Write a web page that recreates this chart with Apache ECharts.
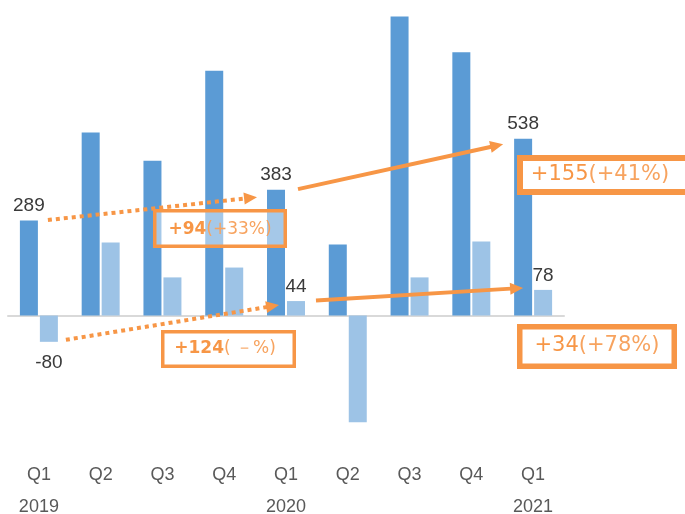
<!DOCTYPE html>
<html>
<head>
<meta charset="utf-8">
<script src="https://cdn.jsdelivr.net/npm/echarts@6/dist/echarts.min.js"></script>
<style>
  html, body { margin: 0; padding: 0; background: #fff; }
  #chart { width: 685px; height: 514px; }
</style>
</head>
<body>
<div id="chart"></div>
<script>
// data
const quarters = ['Q1', 'Q2', 'Q3', 'Q4', 'Q1', 'Q2', 'Q3', 'Q4', 'Q1'];
const years = ['2019', '', '', '', '2020', '', '', '', '2021'];
const seriesDark = [289, 557, 471, 745, 383, 216, 910, 801, 538];
const seriesLight = [-80, 222, 116, 146, 44, -325, 116, 225, 78];
const labelIndex = [0, 4, 8];
const diffTexts = [
  ['+94', '(+33%)'],
  ['+155', '(+41%)'],
  ['+124', '( －%)'],
  ['+34', '(+78%)'],
];

const ORANGE = '#F79646';
const chart = echarts.init(document.getElementById('chart'));

function withLabels(values) {
  return values.map((v, i) => {
    if (!labelIndex.includes(i)) return v;
    return {
      value: v,
      label: { show: true, position: v < 0 ? 'bottom' : 'top', distance: v < 0 ? 11 : 5 },
    };
  });
}

const valueLabel = {
  show: false,
  color: '#3a3a3a',
  fontSize: 19,
  fontFamily: 'Liberation Sans',
};

chart.setOption({
  animation: false,
  grid: { left: 8, right: 121, top: 0, bottom: 67, outerBoundsMode: 'none' },
  xAxis: [
    {
      type: 'category',
      data: quarters,
      axisLine: { onZero: true, lineStyle: { color: '#D9D9D9', width: 2 } },
      axisTick: { show: false },
      axisLabel: { show: false },
    },
    {
      type: 'category',
      data: quarters,
      position: 'bottom',
      axisLine: { show: false, onZero: false },
      axisTick: { show: false },
      axisLabel: {
        margin: 12,
        formatter: (v, i) => `{q|${v}}\n{y|${years[i] || ' '}}`,
        rich: {
          q: { fontSize: 18, fontFamily: 'Liberation Sans', color: '#595959', lineHeight: 32 },
          y: { fontSize: 18, fontFamily: 'Liberation Sans', color: '#595959', lineHeight: 32 },
        },
      },
    },
  ],
  yAxis: { type: 'value', min: -400, max: 960, show: false },
  series: [
    {
      type: 'bar',
      data: withLabels(seriesDark),
      barWidth: 18,
      barGap: '11%',
      itemStyle: { color: '#5B9BD5' },
      label: valueLabel,
    },
    {
      type: 'bar',
      data: withLabels(seriesLight),
      barWidth: 18,
      itemStyle: { color: '#9DC3E6' },
      label: valueLabel,
    },
  ],
});

function px(i, v, dx, dy) {
  const p = chart.convertToPixel({ xAxisIndex: 0, yAxisIndex: 0 }, [i, v]);
  return [p[0] + dx, p[1] + dy];
}

function arrow(p1, p2, dashed) {
  const dx = p2[0] - p1[0];
  const dy = p2[1] - p1[1];
  const len = Math.hypot(dx, dy);
  const ux = dx / len;
  const uy = dy / len;
  const hl = 13;
  const hw = 6;
  const base = [p2[0] - ux * hl, p2[1] - uy * hl];
  const left = [base[0] - uy * hw, base[1] + ux * hw];
  const right = [base[0] + uy * hw, base[1] - ux * hw];
  return [
    {
      type: 'line',
      z: 100,
      shape: { x1: p1[0], y1: p1[1], x2: base[0] + ux, y2: base[1] + uy },
      style: { stroke: ORANGE, lineWidth: 4, lineDash: dashed ? [4, 4] : null },
    },
    {
      type: 'polygon',
      z: 100,
      shape: { points: [p2, left, right] },
      style: { fill: ORANGE },
    },
  ];
}

function box(x1, y1, x2, y2, lw, fill, parts, cx, cy, size, boldNum) {
  return [
    {
      type: 'rect',
      z: 101,
      shape: { x: x1 + lw / 2, y: y1 + lw / 2, width: x2 - x1 - lw, height: y2 - y1 - lw },
      style: { fill: fill, stroke: ORANGE, lineWidth: lw },
    },
    {
      type: 'text',
      z: 102,
      x: cx,
      y: cy,
      style: {
        text: `{b|${parts[0]}}{n|${parts[1]}}`,
        align: 'center',
        verticalAlign: 'middle',
        textAlign: 'center',
        textVerticalAlign: 'middle',
        rich: {
          b: { fill: ORANGE, fontSize: size, fontFamily: 'DejaVu Sans', fontWeight: boldNum ? 'bold' : 'normal' },
          n: { fill: '#F7A35F', fontSize: size, fontFamily: 'DejaVu Sans' },
        },
      },
    },
  ];
}

const elements = [
  ...arrow(px(0, seriesDark[0], 9, -0.5), px(4, seriesDark[4], -29, 7.5), true),
  ...arrow(px(4, seriesDark[4], 12, -0.5), px(8, seriesDark[8], -30, 5.5), false),
  ...arrow(px(0, seriesLight[0], 27, -2), px(4, seriesLight[4], -7, 4), true),
  ...arrow(px(4, seriesLight[4], 30, -0.5), px(8, seriesLight[8], -10, -2), false),
  ...box(153, 209, 287, 248, 3.5, 'rgba(255,255,255,0.45)', diffTexts[0], 220, 230, 17, true),
  ...box(517, 155, 692, 195, 6, '#fff', diffTexts[1], 600, 175, 21, false),
  ...box(161, 330, 296, 368, 3.5, '#fff', diffTexts[2], 225, 349, 17, true),
  ...box(517, 324, 677, 369, 5.5, '#fff', diffTexts[3], 597, 346, 21, false),
];

chart.setOption({ graphic: { elements: elements } });
</script>
</body>
</html>
